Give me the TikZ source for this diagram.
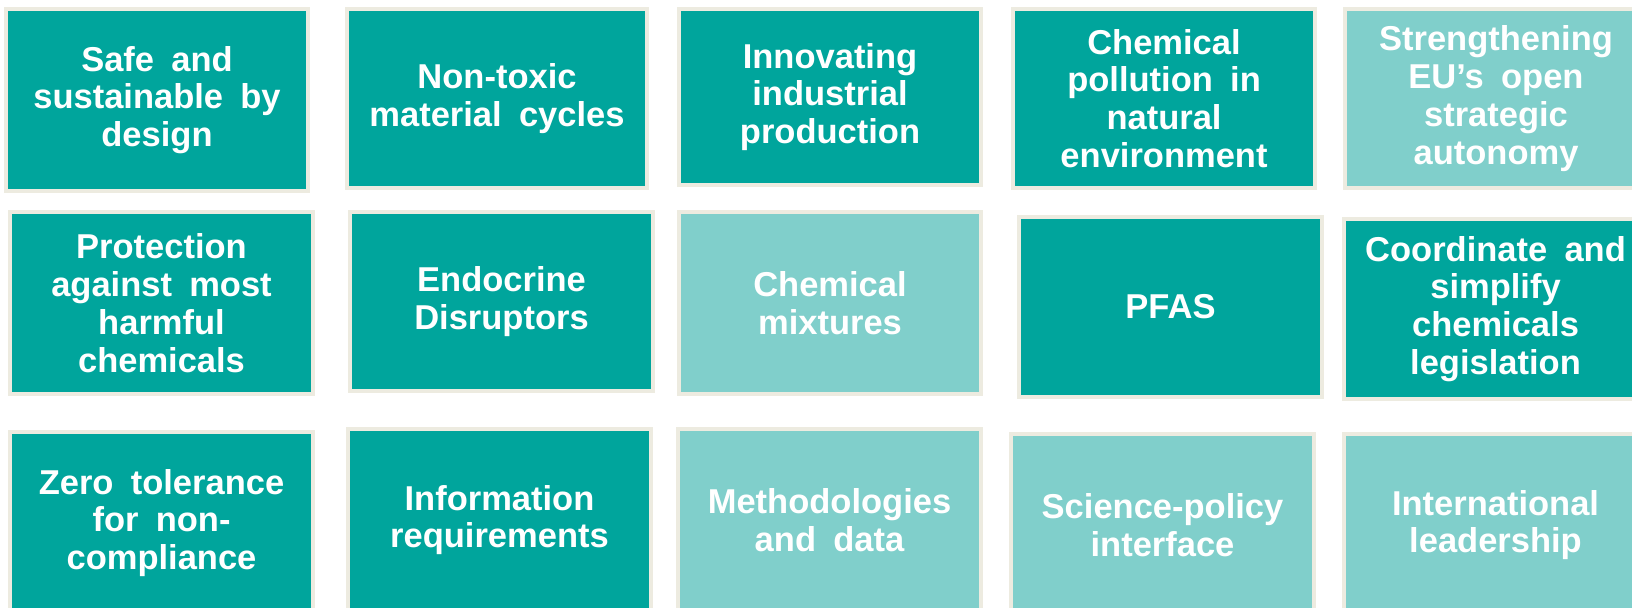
\documentclass[tikz,border=0pt]{standalone}
\usepackage{fontspec}
\setmainfont{Liberation Sans}[WordSpace=1.8]

\begin{document}
\begin{tikzpicture}[x=0.5pt, y=-0.5pt,
    tile/.style={draw=tileframe, line width=2pt, minimum width=151.5pt,
        minimum height=90pt, inner sep=0pt, align=center, text=white,
        font=\bfseries\fontsize{17.25}{18.9}\selectfont},
    tiledark/.style={tile, fill=tealfull},
    tilelight/.style={tile, fill=tealsoft}]
    % --- Paleta ---
    \definecolor{tealfull}{HTML}{00A59C}
    \definecolor{tealsoft}{HTML}{80CFCB}
    \definecolor{tileframe}{HTML}{EDEBE0}

    % --- Lienzo ---
    \fill[white] (0,0) rectangle (1632,607);
    \useasboundingbox (0,0) rectangle (1632,607);

    % --- Fila 1 ---
    \node[tiledark, minimum width=151pt, minimum height=91pt] (safe) at (157,100) {Safe and\\sustainable by\\design};
    \node[tiledark, minimum width=150pt, minimum height=89.5pt] (nontoxic) at (497,98.5) {Non-toxic\\material cycles};
    \node[tiledark, minimum width=151pt, minimum height=88pt] (industrial) at (830,97) {Innovating\\industrial\\production};
    \node[tiledark, minimum width=151pt, minimum height=89.5pt] (pollution) at (1164,98.5) {Chemical\\pollution in\\natural\\environment};
    \node[tilelight, minimum height=89.5pt] (autonomy) at (1496,98.5) {Strengthening\\EU’s open\\strategic\\autonomy};

    % --- Fila 2 ---
    \node[tiledark, minimum height=91pt] (harmful) at (161.5,303) {Protection\\against most\\harmful\\chemicals};
    \node[tiledark, minimum height=89.5pt] (endocrine) at (501.5,301.5) {Endocrine\\Disruptors};
    \node[tilelight, minimum width=151pt, minimum height=91pt] (mixtures) at (830,303) {Chemical\\mixtures};
    \node[tiledark] (pfas) at (1170.5,307) {PFAS};
    \node[tiledark] (legislation) at (1495.5,309) {Coordinate and\\simplify\\chemicals\\legislation};

    % --- Fila 3 ---
    \node[tiledark, minimum height=91pt] (compliance) at (161.5,523) {Zero tolerance\\for non-\\compliance};
    \node[tiledark, minimum height=91pt] (information) at (499.5,520) {Information\\requirements};
    \node[tilelight, minimum height=91pt] (methods) at (829.5,520) {Methodologies\\and data};
    \node[tilelight, minimum height=91pt] (interface) at (1162.5,525) {Science-policy\\interface};
    \node[tilelight, minimum height=91pt] (leadership) at (1495.5,525) {International\\leadership};
\end{tikzpicture}
\end{document}
